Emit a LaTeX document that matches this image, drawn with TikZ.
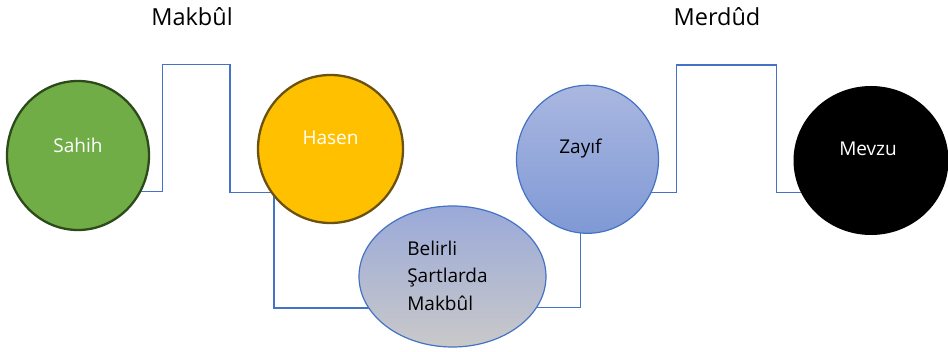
\documentclass[tikz,border=0pt]{standalone}
\usepackage{fontspec}
\setmainfont{Open Sans}
\usetikzlibrary{shapes.geometric,backgrounds}
\definecolor{conncol}{HTML}{4472C4}
\definecolor{sahihfill}{HTML}{70AD47}
\definecolor{sahihdraw}{HTML}{2C4A1A}
\definecolor{hasenfill}{HTML}{FFC000}
\definecolor{hasendraw}{HTML}{6B5210}
\definecolor{blueTop}{HTML}{AAB7E0}
\definecolor{blueBot}{HTML}{7F99D5}
\definecolor{ellTop}{HTML}{9AA9D9}
\definecolor{ellMid}{HTML}{8DA8DC}
\definecolor{ellBot}{HTML}{C9C9C9}
\tikzset{
  conn/.style={draw=conncol, line width=1.3pt},
  blob/.style={ellipse, inner sep=0pt},
  nodetext/.style={font=\fontsize{19}{27.5}\selectfont},
  titletext/.style={font=\fontsize{23.5}{28}\selectfont, text=black},
}
\begin{document}
\begin{tikzpicture}[x=1pt,y=-1pt]
\useasboundingbox (0,0) rectangle (948,352);
\begin{scope}
\clip (0,0) rectangle (948,352);
\node[blob, minimum width=142pt, minimum height=149pt, fill=sahihfill, draw=sahihdraw, line width=2.3pt,
  label={[nodetext, text=white, yshift=10pt]center:Sahih}] (sahih) at (78,155.5) {};
\node[blob, minimum width=145pt, minimum height=148pt, fill=hasenfill, draw=hasendraw, line width=2.3pt,
  label={[nodetext, text=white, yshift=11pt]center:Hasen}] (hasen) at (330.5,149) {};
\node[blob, minimum width=187pt, minimum height=141pt, top color=ellTop, middle color=ellMid, bottom color=ellBot, draw=conncol, line width=1.2pt,
  label={[nodetext, text=black, align=left, xshift=-5pt, yshift=1pt]center:Belirli\\Şartlarda\\Makbûl}] (belirli) at (452.5,276.5) {};
\node[blob, minimum width=142pt, minimum height=148pt, top color=blueTop, bottom color=blueBot, draw=conncol, line width=1.2pt,
  label={[nodetext, text=black, yshift=11pt, xshift=-7pt]center:Zayıf}] (zayif) at (587.5,159.3) {};
\node[blob, minimum width=155pt, minimum height=149pt, fill=black,
  label={[nodetext, text=white, yshift=12pt, xshift=-3pt]center:Mevzu}] (mevzu) at (871,160.5) {};
\end{scope}
\node[titletext] (makbul) at (192,17) {Makbûl};
\node[titletext] (merdud) at (717,17) {Merdûd};
\begin{pgfonlayer}{background}
\draw[conn] (sahih.center |- 0,191.7) -| (162.7,64.7) -| (230,192.3) -- (hasen.center |- 0,192.3);
\draw[conn] (hasen.center -| 274,0) -- (274,308) -- (belirli.center |- 0,308);
\draw[conn] (belirli.center |- 0,307.7) -| (zayif.center -| 580.7,0);
\draw[conn] (zayif.center |- 0,192.7) -| (676.7,65) -| (776.7,192.7) -- (mevzu.center |- 0,192.7);
\end{pgfonlayer}
\end{tikzpicture}
\end{document}
